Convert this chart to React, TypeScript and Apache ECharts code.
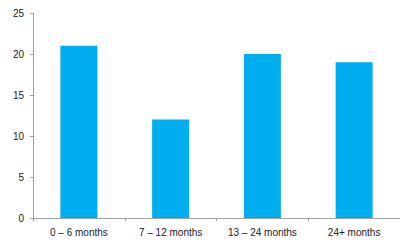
import React, { useEffect, useRef } from "react";
import * as echarts from "echarts";

const categories = ["0 – 6 months", "7 – 12 months", "13 – 24 months", "24+ months"];
const values = [21, 12, 20, 19];

export default function App() {
  const ref = useRef<HTMLDivElement>(null);
  useEffect(() => {
    const chart = echarts.init(ref.current!, null, { renderer: "svg" });
    chart.setOption({
      animation: false,
      backgroundColor: "#ffffff",
      grid: { left: 33, top: 13, width: 368, height: 205, containLabel: false },
      xAxis: {
        type: "category",
        data: categories,
        axisLine: { lineStyle: { color: "#a0a0a0", width: 1 } },
        axisTick: { show: true, length: 3, lineStyle: { color: "#a0a0a0" } },
        axisLabel: { color: "#222", fontSize: 10, fontFamily: "Liberation Sans, Arial", margin: 9 },
      },
      yAxis: {
        type: "value",
        min: 0,
        max: 25,
        interval: 5,
        splitLine: { show: false },
        axisLine: { show: true, lineStyle: { color: "#a0a0a0", width: 1 } },
        axisTick: { show: true, length: 3, lineStyle: { color: "#a0a0a0" } },
        axisLabel: { color: "#222", fontSize: 10, fontFamily: "Liberation Sans, Arial", margin: 9 },
      },
      series: [
        {
          type: "bar",
          data: values,
          barWidth: 37,
          itemStyle: { color: "#00AEEF" },
        },
      ],
    });
    return () => chart.dispose();
  }, []);
  return <div ref={ref} style={{ width: 400, height: 244, position: "fixed", left: 0, top: 0 }} />;
}
